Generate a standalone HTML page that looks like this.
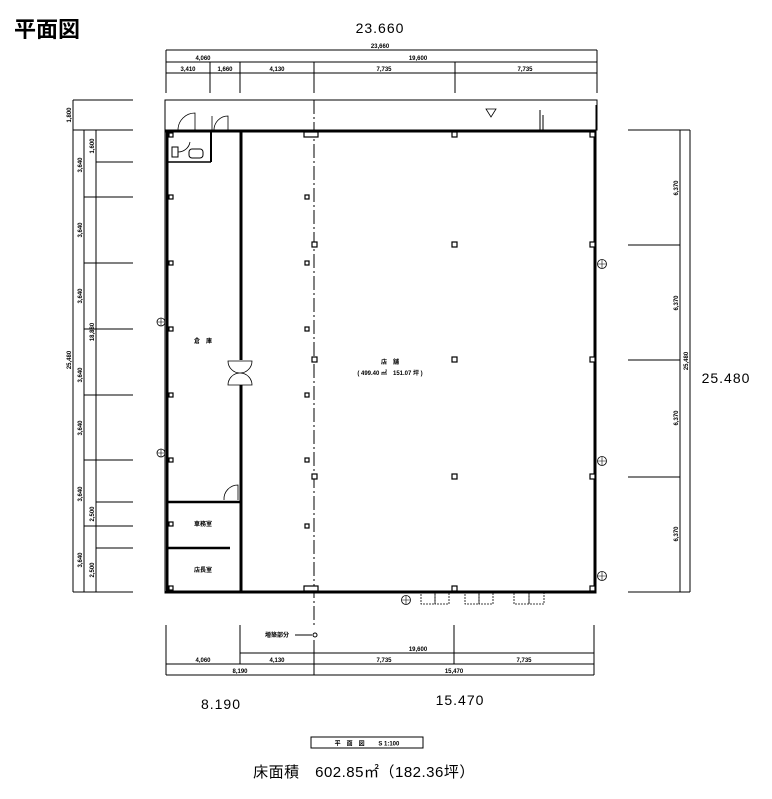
<!DOCTYPE html>
<html><head><meta charset="utf-8"><style>
html,body{margin:0;padding:0;background:#fff}
svg{display:block}
text{font-family:"Liberation Sans","Noto Sans CJK JP",sans-serif;fill:#000}
.s{font-size:6px;font-weight:bold}
.b{font-size:14px;letter-spacing:1px}
</style></head><body>
<svg width="772" height="799" viewBox="0 0 772 799" xmlns="http://www.w3.org/2000/svg">
<text x="14" y="37" style="font-size:22px;font-weight:bold">平面図</text>
<text x="380" y="33" text-anchor="middle" class="b">23.660</text>
<text x="221" y="709" text-anchor="middle" class="b">8.190</text>
<text x="460" y="705" text-anchor="middle" class="b">15.470</text>
<text x="726" y="383" text-anchor="middle" class="b">25.480</text>

<g stroke="#000" stroke-width="1" fill="none">
<line x1="166" y1="50" x2="597" y2="50"/>
<line x1="166" y1="62" x2="597" y2="62"/>
<line x1="166" y1="73" x2="597" y2="73"/>
<line x1="166" y1="50" x2="166" y2="93"/>
<line x1="597" y1="50" x2="597" y2="93"/>
<line x1="210" y1="62" x2="210" y2="93"/>
<line x1="240" y1="62" x2="240" y2="93"/>
<line x1="314" y1="62" x2="314" y2="93"/>
<line x1="455" y1="62" x2="455" y2="93"/>
<line x1="73" y1="100" x2="133" y2="100"/>
<line x1="73" y1="100" x2="73" y2="592"/>
<line x1="84" y1="130" x2="84" y2="592"/>
<line x1="96" y1="130" x2="96" y2="592"/>
<line x1="73" y1="130" x2="133" y2="130"/>
<line x1="96" y1="162" x2="133" y2="162"/>
<line x1="84" y1="197" x2="133" y2="197"/>
<line x1="84" y1="263" x2="133" y2="263"/>
<line x1="84" y1="329" x2="133" y2="329"/>
<line x1="84" y1="395" x2="133" y2="395"/>
<line x1="84" y1="460" x2="133" y2="460"/>
<line x1="96" y1="502" x2="133" y2="502"/>
<line x1="84" y1="526" x2="133" y2="526"/>
<line x1="96" y1="548" x2="133" y2="548"/>
<line x1="73" y1="592" x2="133" y2="592"/>
<line x1="628" y1="130" x2="690" y2="130"/>
<line x1="628" y1="245" x2="680" y2="245"/>
<line x1="628" y1="360" x2="680" y2="360"/>
<line x1="628" y1="477" x2="680" y2="477"/>
<line x1="628" y1="592" x2="690" y2="592"/>
<line x1="680" y1="130" x2="680" y2="592"/>
<line x1="690" y1="130" x2="690" y2="592"/>
<line x1="166" y1="625" x2="166" y2="675"/>
<line x1="240" y1="625" x2="240" y2="664"/>
<line x1="314" y1="640" x2="314" y2="675"/>
<line x1="454" y1="625" x2="454" y2="664"/>
<line x1="594" y1="625" x2="594" y2="675"/>
<line x1="240" y1="653" x2="594" y2="653"/>
<line x1="166" y1="664" x2="594" y2="664"/>
<line x1="166" y1="675" x2="594" y2="675"/>
<line x1="295" y1="635" x2="312" y2="635"/>
<circle cx="315" cy="635" r="2"/>
<rect x="165" y="100" width="432" height="30"/>
<line x1="314" y1="100" x2="314" y2="625" stroke-dasharray="14,3,2,3"/>
</g>

<g stroke="#000" fill="none">
<rect x="165" y="130" width="431" height="463" stroke-width="1"/>
<rect x="168" y="131" width="426" height="460" stroke-width="1"/>
<line x1="165" y1="131" x2="596" y2="131" stroke-width="3"/>
<line x1="165" y1="592" x2="596" y2="592" stroke-width="2"/>
<line x1="167" y1="130" x2="167" y2="593" stroke-width="2.5"/>
<line x1="595" y1="130" x2="595" y2="593" stroke-width="2"/>
<line x1="241" y1="131" x2="241" y2="360" stroke-width="3"/>
<line x1="241" y1="385" x2="241" y2="592" stroke-width="3"/>
<line x1="167" y1="502" x2="241" y2="502" stroke-width="2.5"/>
<line x1="167" y1="548" x2="230" y2="548" stroke-width="2.5"/>
<line x1="211" y1="131" x2="211" y2="162" stroke-width="2"/>
<line x1="167" y1="162" x2="211" y2="162" stroke-width="1.5"/>
<path d="M195 130 L195 113 A17 17 0 0 0 178 130" stroke-width="0.8"/>
<path d="M212 130 L212 116 M228 130 L228 116 A14 14 0 0 0 214 130" stroke-width="0.8"/>
<path d="M228 361 A12 12 0 0 0 252 361 Z M228 385 A12 12 0 0 1 252 385 Z" stroke-width="0.8"/>
<path d="M238 500 L238 485 A14 14 0 0 0 224 500" stroke-width="0.8"/>
<path d="M190 142 A12 12 0 0 1 178 152" stroke-width="0.8"/>
<rect x="172" y="147" width="6" height="10" stroke-width="1"/>
<rect x="189" y="149" width="14" height="9" rx="3" stroke-width="1"/>
<path d="M486 109 L496 109 L491 117 Z" stroke-width="0.8"/>
<line x1="540" y1="110" x2="540" y2="130"/>
<line x1="543" y1="115" x2="543" y2="130"/>
<line x1="596" y1="105" x2="596" y2="130"/>
</g>

<g stroke="#000" stroke-width="1.2" fill="#fff">
<rect x="312" y="242" width="5" height="5"/><rect x="452" y="242" width="5" height="5"/><rect x="590" y="242" width="5" height="5"/>
<rect x="312" y="357" width="5" height="5"/><rect x="452" y="357" width="5" height="5"/><rect x="590" y="357" width="5" height="5"/>
<rect x="312" y="474" width="5" height="5"/><rect x="452" y="474" width="5" height="5"/><rect x="590" y="474" width="5" height="5"/>
<rect x="452" y="586" width="5" height="5"/><rect x="590" y="586" width="5" height="5"/>
<rect x="452" y="132" width="5" height="5"/><rect x="590" y="132" width="5" height="5"/>
<rect x="304" y="132" width="14" height="5"/><rect x="304" y="586" width="14" height="5"/>
<rect x="305" y="195" width="4" height="4"/><rect x="305" y="261" width="4" height="4"/><rect x="305" y="327" width="4" height="4"/>
<rect x="305" y="393" width="4" height="4"/><rect x="305" y="458" width="4" height="4"/><rect x="305" y="524" width="4" height="4"/>
<rect x="169" y="195" width="4" height="4"/><rect x="169" y="261" width="4" height="4"/><rect x="169" y="327" width="4" height="4"/>
<rect x="169" y="393" width="4" height="4"/><rect x="169" y="458" width="4" height="4"/><rect x="169" y="522" width="4" height="4"/>
<rect x="169" y="586" width="4" height="4"/><rect x="169" y="133" width="4" height="4"/>
</g>

<g stroke="#000" stroke-width="0.8" fill="#fff">
<circle cx="161" cy="322" r="4"/><circle cx="161" cy="453" r="4"/>
<circle cx="602" cy="264" r="4.5"/><circle cx="602" cy="461" r="4.5"/><circle cx="602" cy="576" r="4.5"/>
<circle cx="406" cy="600" r="4.5"/>
</g>
<g stroke="#000" stroke-width="0.6" fill="none">
<path d="M161 318 L161 326 M157 322 L165 322"/><path d="M161 449 L161 457 M157 453 L165 453"/>
<path d="M602 260 L602 268 M598 264 L606 264"/><path d="M602 457 L602 465 M598 461 L606 461"/>
<path d="M602 572 L602 580 M598 576 L606 576"/><path d="M406 596 L406 604 M402 600 L410 600"/>
</g>
<g stroke="#000" stroke-width="0.8" fill="none" stroke-dasharray="2,1">
<rect x="421" y="592" width="14" height="12"/><rect x="435" y="592" width="14" height="12"/>
<rect x="465" y="592" width="14" height="12"/><rect x="479" y="592" width="14" height="12"/>
<rect x="514" y="592" width="15" height="12"/><rect x="529" y="592" width="15" height="12"/>
</g>

<g class="s" text-anchor="middle">
<text x="380" y="48">23,660</text>
<text x="203" y="60">4,060</text>
<text x="418" y="60">19,600</text>
<text x="188" y="71">3,410</text>
<text x="225" y="71">1,660</text>
<text x="277" y="71">4,130</text>
<text x="384" y="71">7,735</text>
<text x="525" y="71">7,735</text>
<text x="418" y="651">19,600</text>
<text x="203" y="662">4,060</text>
<text x="277" y="662">4,130</text>
<text x="384" y="662">7,735</text>
<text x="524" y="662">7,735</text>
<text x="240" y="673">8,190</text>
<text x="454" y="673">15,470</text>
<text x="277" y="637">増築部分</text>
<text x="203" y="343">倉　庫</text>
<text x="203" y="526">車務室</text>
<text x="203" y="572">店長室</text>
<text x="390" y="364">店　舗</text>
<text x="390" y="375">( 499.40 ㎡　151.07 坪 )</text>
</g>
<g class="s" text-anchor="middle">
<text transform="translate(71,115) rotate(-90)">1,800</text>
<text transform="translate(71,360) rotate(-90)">25,480</text>
<text transform="translate(82,165) rotate(-90)">3,640</text>
<text transform="translate(82,230) rotate(-90)">3,640</text>
<text transform="translate(82,296) rotate(-90)">3,640</text>
<text transform="translate(82,375) rotate(-90)">3,640</text>
<text transform="translate(82,428) rotate(-90)">3,640</text>
<text transform="translate(82,494) rotate(-90)">3,640</text>
<text transform="translate(82,560) rotate(-90)">3,640</text>
<text transform="translate(94,146) rotate(-90)">1,600</text>
<text transform="translate(94,332) rotate(-90)">18,880</text>
<text transform="translate(94,514) rotate(-90)">2,500</text>
<text transform="translate(94,570) rotate(-90)">2,500</text>
<text transform="translate(678,188) rotate(-90)">6,370</text>
<text transform="translate(678,303) rotate(-90)">6,370</text>
<text transform="translate(678,418) rotate(-90)">6,370</text>
<text transform="translate(678,534) rotate(-90)">6,370</text>
<text transform="translate(688,361) rotate(-90)">25,480</text>
</g>

<rect x="311" y="737" width="112" height="11" fill="none" stroke="#000" stroke-width="1"/>
<text x="367" y="745.5" text-anchor="middle" class="s">平　面　図　　 S 1:100</text>
<text x="364" y="777" text-anchor="middle" style="font-size:15px;letter-spacing:0.5px">床面積　602.85㎡（182.36坪）</text>
</svg>
</body></html>
